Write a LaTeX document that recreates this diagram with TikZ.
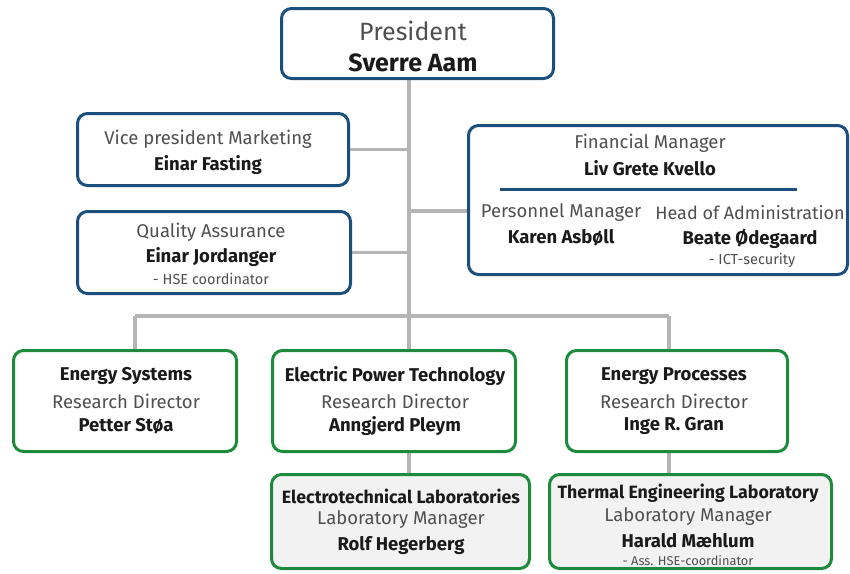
\documentclass[tikz,border=0pt]{standalone}
\usepackage{fontspec}
\setmainfont{Fira Sans}
\usetikzlibrary{backgrounds}
\definecolor{sblue}{HTML}{1B4F7E}
\definecolor{sgreen}{HTML}{1E8A3C}
\definecolor{lgray}{HTML}{B5B5B5}
\definecolor{labfill}{HTML}{F2F2F2}
\definecolor{tgray}{HTML}{4F4F4F}
\definecolor{ndark}{HTML}{1A1A1A}
\tikzset{
  bbox/.style={draw=sblue, line width=3pt, rounded corners=10pt, fill=white, inner sep=0pt},
  gbox/.style={draw=sgreen, line width=3pt, rounded corners=10pt, fill=white, inner sep=0pt},
  lbox/.style={gbox, fill=labfill},
  link/.style={draw=lgray, line width=3.5pt},
  ttl/.style={text=tgray, inner sep=0pt, font=\fontsize{18.5}{21}\selectfont},
  nm/.style={text=ndark, inner sep=0pt, font=\fontsize{18.5}{21}\selectfont\bfseries},
  nmx/.style={text=ndark, inner sep=0pt, font=\fontsize{17.8}{20}\selectfont\bfseries},
  sm/.style={text=tgray, inner sep=0pt, font=\fontsize{14.5}{16}\selectfont},
  smx/.style={text=tgray, inner sep=0pt, font=\fontsize{12.8}{14}\selectfont},
}
\begin{document}
\begin{tikzpicture}[x=1pt,y=-1pt]
\useasboundingbox (0,0) rectangle (850,573);
% junction coordinates
\coordinate (bus) at (409,316);
\coordinate (busL) at (135,316);
\coordinate (busR) at (669,316);
\coordinate (finj) at (409,211);
% boxes
\node[bbox, minimum width=272pt, minimum height=70pt] (pres) at (417.5,43.5) {};
\node[bbox, minimum width=271pt, minimum height=72pt] (vp) at (213,149.5) {};
\node[bbox, minimum width=273pt, minimum height=82pt] (qa) at (214,252.5) {};
\node[bbox, minimum width=379pt, minimum height=149pt] (fin) at (658,200) {};
\node[gbox, minimum width=223pt, minimum height=101pt] (es) at (125,401) {};
\node[gbox, minimum width=243pt, minimum height=101pt] (ept) at (394,401) {};
\node[gbox, minimum width=221pt, minimum height=101pt] (ep) at (677,401) {};
\node[lbox, minimum width=258pt, minimum height=94pt] (el) at (400.5,521.5) {};
\node[lbox, minimum width=282pt, minimum height=94pt] (te) at (690.5,521.5) {};
% connectors (behind boxes)
\begin{scope}[on background layer]
\draw[link] (pres.south -| bus) -- (bus);
\draw[link] (vp.east) -- (vp.east -| bus);
\draw[link] (qa.east) -- (qa.east -| bus);
\draw[link] (finj) -- (finj -| fin.west);
\draw[link] (busL) -- (busR);
\draw[link] (busL) -- (busL |- es.north);
\draw[link] (bus) -- (bus |- ept.north);
\draw[link] (busR) -- (busR |- ep.north);
\draw[link] (ept.south -| bus) -- (el.north -| bus);
\draw[link] (ep.south -| busR) -- (te.north -| busR);
\end{scope}
% divider in financial box
\draw[sblue, line width=3pt] (500,189) -- (797,189);
% texts
\node[ttl, font=\fontsize{25}{27}\selectfont] (t1) at (413,31) {President};
\node[nm, font=\fontsize{25}{27}\selectfont\bfseries] (t2) at (413,63) {Sverre Aam};
\node[ttl] (t3) at (208,139) {Vice president Marketing};
\node[nm] (t4) at (208,165) {Einar Fasting};
\node[ttl] (t5) at (211,232) {Quality Assurance};
\node[nm] (t6) at (211,257) {Einar Jordanger};
\node[sm] (t7) at (211,279) {- HSE coordinator};
\node[ttl] (t8) at (650,143) {Financial Manager};
\node[nm] (t9) at (650,168) {Liv Grete Kvello};
\node[ttl] (t10) at (561,213) {Personnel Manager};
\node[nm] (t11) at (561,238) {Karen Asbøll};
\node[ttl, font=\fontsize{18}{20}\selectfont] (t12) at (750,213) {Head of Administration};
\node[nm] (t13) at (750,239) {Beate Ødegaard};
\node[sm] (t14) at (752,260) {- ICT-security};
\node[nm] (t15) at (126,376) {Energy Systems};
\node[ttl] (t16) at (126,401) {Research Director};
\node[nm] (t17) at (126,426) {Petter Støa};
\node[nm] (t18) at (395,376) {Electric Power Technology};
\node[ttl] (t19) at (395,401) {Research Director};
\node[nm] (t20) at (395,426) {Anngjerd Pleym};
\node[nm] (t21) at (674,376) {Energy Processes};
\node[ttl] (t22) at (674,401) {Research Director};
\node[nm] (t23) at (674,426) {Inge R. Gran};
\node[nmx] (t24) at (401,496) {Electrotechnical Laboratories};
\node[ttl] (t25) at (401,520) {Laboratory Manager};
\node[nm] (t26) at (401,546) {Rolf Hegerberg};
\node[nmx] (t27) at (688,493) {Thermal Engineering Laboratory};
\node[ttl] (t28) at (688,517) {Laboratory Manager};
\node[nm] (t29) at (688,541) {Harald Mæhlum};
\node[smx] (t30) at (688,561) {- Ass. HSE-coordinator};
\end{tikzpicture}
\end{document}
